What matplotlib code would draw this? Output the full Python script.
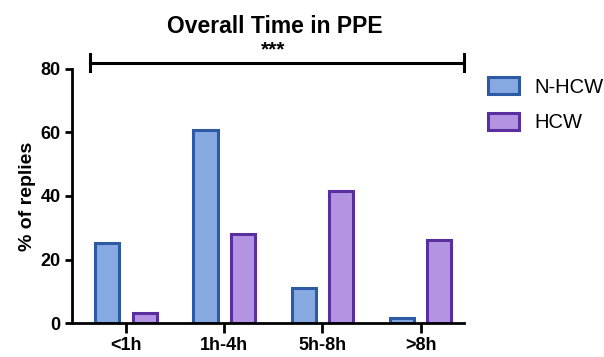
import matplotlib.pyplot as plt
import numpy as np

plt.rcParams['font.family'] = ['Liberation Sans', 'DejaVu Sans']

# data
categories = ['<1h', '1h-4h', '5h-8h', '>8h']
n_hcw = [25.1, 60.8, 11.0, 1.6]
hcw = [3.1, 27.9, 41.5, 26.3]

x = np.arange(len(categories))
width = 0.245
offset = 0.19

fig = plt.figure(figsize=(6.04, 3.57), dpi=100)
ax = fig.add_axes([0.119, 0.095, 0.649, 0.712])

ax.bar(x - offset, n_hcw, width, color='#86A9E2', edgecolor='#2C5AA5', linewidth=2.2, label='N-HCW')
ax.bar(x + offset, hcw, width, color='#B294E2', edgecolor='#5A2E9E', linewidth=2.2, label='HCW')

ax.set_xlim(-0.55, 3.44)
ax.set_ylim(0, 80)
ax.set_yticks([0, 20, 40, 60, 80])
ax.set_xticks(x)
ax.set_xticklabels(categories)

for s in ['top', 'right']:
    ax.spines[s].set_visible(False)
ax.spines['left'].set_linewidth(2)
ax.spines['bottom'].set_linewidth(2)
ax.tick_params(axis='y', width=2, length=5, labelsize=13, pad=3)
ax.tick_params(axis='x', width=2, length=7, labelsize=13, pad=3)
for lab in ax.get_xticklabels() + ax.get_yticklabels():
    lab.set_fontweight('bold')

ax.set_ylabel('% of replies', fontsize=14, fontweight='bold', labelpad=3)
fig.text(0.4545, 0.926, 'Overall Time in PPE', ha='center', va='center', fontsize=16.5, fontweight='bold')

# significance bracket
ax.plot([-0.367, 3.44], [81.9, 81.9], color='black', lw=2.2, clip_on=False)
ax.plot([-0.367, -0.367], [79.2, 84.6], color='black', lw=2.2, clip_on=False)
ax.plot([3.44, 3.44], [79.2, 84.6], color='black', lw=2.2, clip_on=False)
ax.text(1.497, 85.9, '***', ha='center', va='center', fontsize=15, fontweight='bold')

ax.legend(loc='upper left', bbox_to_anchor=(0.808, 0.783), bbox_transform=fig.transFigure,
          frameon=False, fontsize=14.5, borderpad=0, borderaxespad=0,
          handlelength=1.55, handleheight=0.9, labelspacing=0.8, handletextpad=0.75)

fig.savefig('out.png', dpi=100)
